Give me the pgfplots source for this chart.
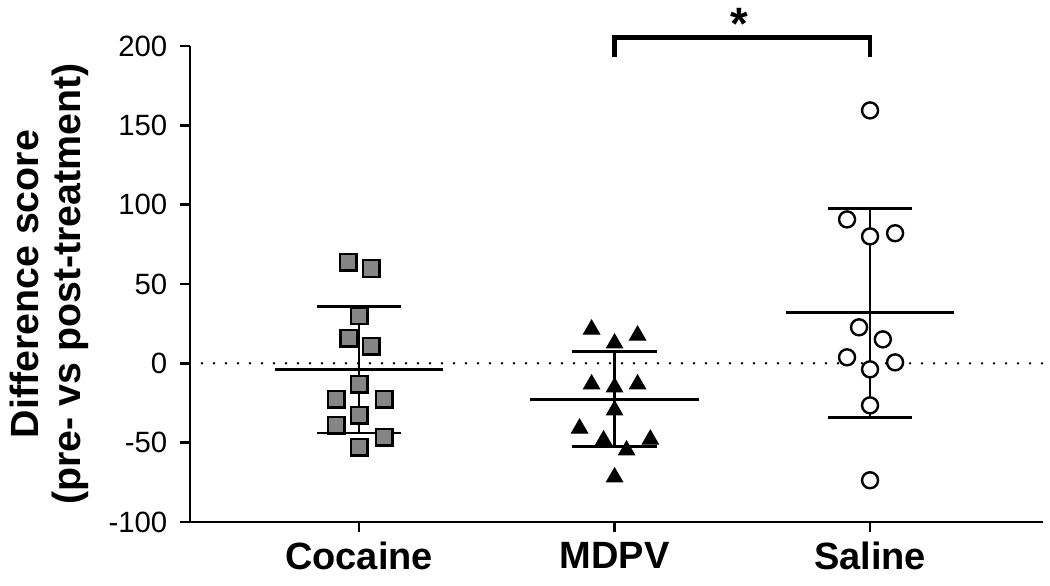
\documentclass[border=0pt]{standalone}
\usepackage{fontspec}
\setmainfont{Liberation Sans}
\usepackage{pgfplots}
\pgfplotsset{compat=1.18}
\begin{document}
\begin{tikzpicture}
\begin{axis}[name=ax,
  scale only axis, width=639.75pt, height=357pt,
  xmin=0.338, xmax=3.677, ymin=-100, ymax=200,
  axis lines=left, axis line style={-, line width=2pt, black},
  clip=false,
  xtick={1,2,3}, xticklabels={Cocaine,MDPV,Saline},
  ytick={-100,-50,0,50,100,150,200},
  yticklabels={-100,-50,0,50,100,150,200},
  tick align=outside, major tick length=7.5pt,
  tick style={line width=2pt, black},
  xticklabel style={font=\fontsize{28.5}{34}\selectfont\bfseries, yshift=-4pt},
  yticklabel style={font=\fontsize{22}{26}\selectfont, xshift=-6pt},
  ylabel={Difference score\\(pre- vs post-treatment)},
  ylabel style={font=\fontsize{29.5}{32}\selectfont\bfseries, align=center,
    at={(axis description cs:-0.118,0.5)}, anchor=south, inner sep=0pt},
]
% zero reference line
\addplot[black, line width=2pt, line cap=round, dash pattern=on 0pt off 9pt, mark=none]
  coordinates {(0.385,0) (3.677,0)};
% Cocaine mean and SD
\addplot[black, line width=2pt, mark=none] coordinates {(0.67,-4) (1.33,-4)};
\addplot[black, line width=2pt, mark=none] coordinates {(1,-44) (1,36)};
\addplot[black, line width=2pt, mark=none] coordinates {(0.835,36) (1.165,36)};
\addplot[black, line width=2pt, mark=none] coordinates {(0.835,-44) (1.165,-44)};
% MDPV mean and SD
\addplot[black, line width=2pt, mark=none] coordinates {(1.67,-22.7) (2.33,-22.7)};
\addplot[black, line width=2pt, mark=none] coordinates {(2,-52.3) (2,7.6)};
\addplot[black, line width=2pt, mark=none] coordinates {(1.835,7.6) (2.165,7.6)};
\addplot[black, line width=2pt, mark=none] coordinates {(1.835,-52.3) (2.165,-52.3)};
% Saline mean and SD
\addplot[black, line width=2pt, mark=none] coordinates {(2.67,32) (3.33,32)};
\addplot[black, line width=2pt, mark=none] coordinates {(3,-34) (3,97.7)};
\addplot[black, line width=2pt, mark=none] coordinates {(2.835,97.7) (3.165,97.7)};
\addplot[black, line width=2pt, mark=none] coordinates {(2.835,-34) (3.165,-34)};
% Cocaine points
\addplot[only marks, mark=square*, mark size=6.2pt,
  mark options={fill=black!48, draw=black, line width=1.8pt}]
  coordinates {(0.957,63.6) (1.047,59.8) (1.0,30) (0.96,15.7) (1.047,10.7)
    (1.0,-13.2) (0.91,-22.7) (1.098,-22.7) (1.0,-32.8) (0.91,-39) (1.098,-46.6) (1.0,-52.9)};
% MDPV points
\addplot[only marks, mark=triangle*, mark size=7pt,
  mark options={fill=black, draw=black, line width=0.75pt}]
  coordinates {(1.91,21.4) (2.09,17.6) (2.0,12.6) (1.91,-13.2) (2.0,-15.1) (2.09,-13.2)
    (2.0,-29.6) (1.863,-41) (1.957,-48.5) (2.14,-48) (2.047,-54.8) (2.0,-71.8)};
% Saline points
\addplot[only marks, mark=*, mark size=6pt,
  mark options={fill=white, draw=black, line width=1.8pt}]
  coordinates {(3.0,159.4) (2.91,90.7) (3.0,80) (3.098,82) (2.957,22.7) (3.05,15.1)
    (2.91,3.8) (3.0,-3.8) (3.098,0.6) (3.0,-26.5) (3.0,-73.7)};
% significance bracket
\addplot[black, line width=3.5pt, line join=miter, mark=none]
  coordinates {(2,193) (2,205.5) (3,205.5) (3,193)};
\node[anchor=north, inner sep=0pt, font=\fontsize{34}{34}\selectfont\bfseries] at (axis cs:2.49,224) {*};
\end{axis}
\pgfresetboundingbox
\path[use as bounding box] ([xshift=-142.5pt,yshift=-48pt]ax.south west) rectangle ([xshift=5.25pt,yshift=34.5pt]ax.north east);
\end{tikzpicture}
\end{document}
